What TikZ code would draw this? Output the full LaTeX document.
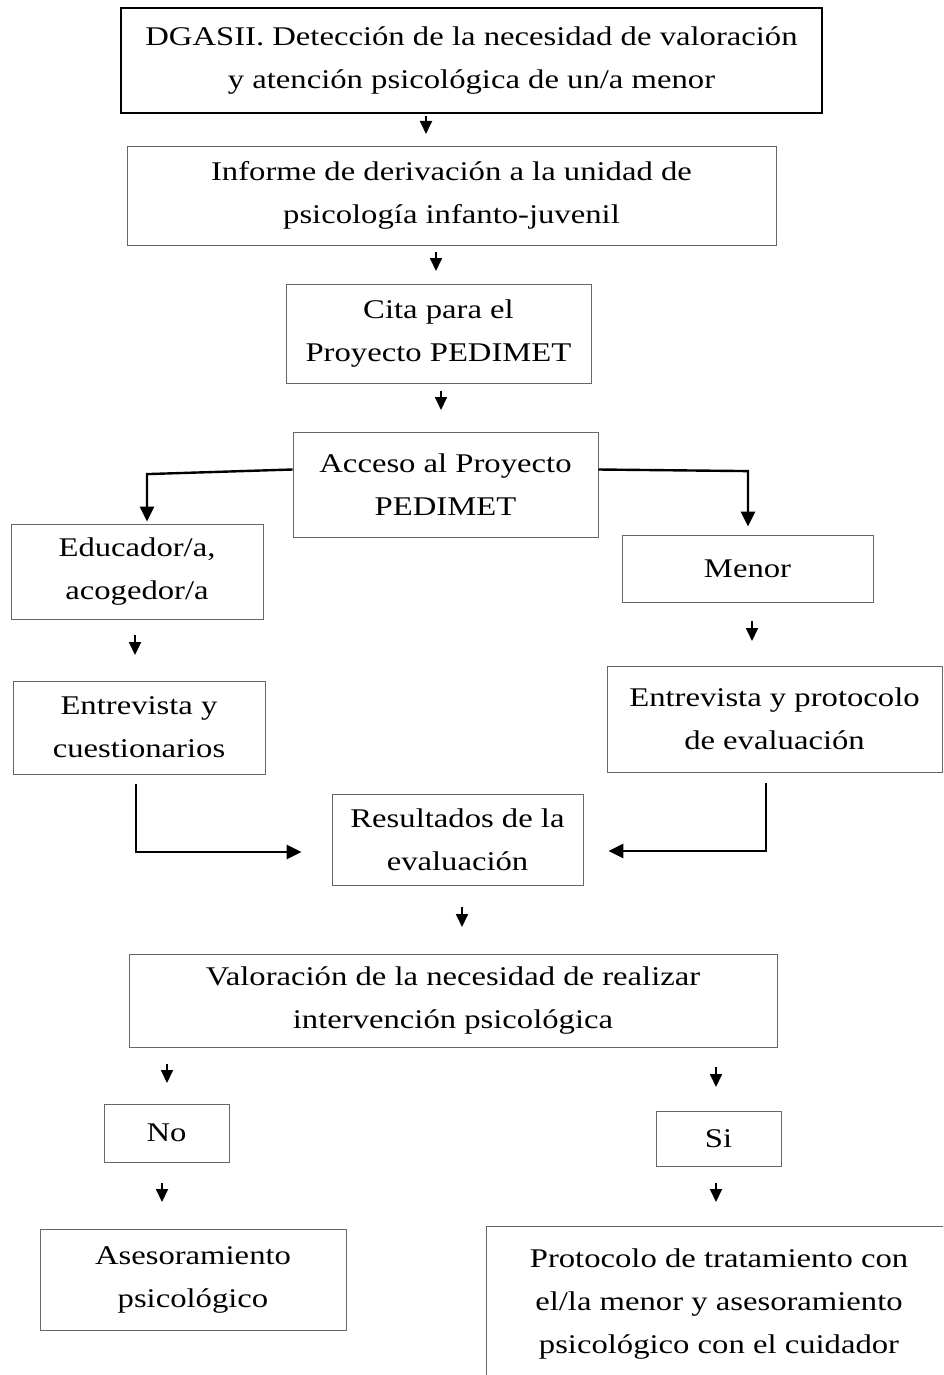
\documentclass[tikz,border=0pt]{standalone}
\usepackage{fontspec}
\setmainfont[FakeStretch=1.21]{Liberation Serif}
\usetikzlibrary{arrows.meta}
\tikzset{
  box/.style={draw=black!60, line width=0.8pt, align=center, inner sep=0pt,
    font=\fontsize{27}{43}\selectfont},
  topbox/.style={box, draw=black, line width=1.6pt},
  sarrow/.style={line width=1.8pt, -{Triangle[length=13pt,width=12pt]}},
  conn/.style={line width=2.4pt, -{Triangle[length=15pt,width=14pt]}}
}
\begin{document}
\begin{tikzpicture}[x=1pt,y=-1pt]
\useasboundingbox (0,0) rectangle (943,1375);
\clip (0,0) rectangle (943,1375);
\fill[white] (0,0) rectangle (943,1375);
\node[topbox, minimum width=701pt, minimum height=105pt] (n1) at (471.5,60.5)
  {DGASII. Detección de la necesidad de valoración\\y atención psicológica de un/a menor};
\node[box, minimum width=649pt, minimum height=99pt] (n2) at (451.5,195.5)
  {Informe de derivación a la unidad de\\psicología infanto-juvenil};
\node[box, minimum width=305pt, minimum height=99pt] (n3) at (438.5,333.5)
  {Cita para el\\Proyecto PEDIMET};
\node[box, minimum width=305pt, minimum height=105pt] (n4) at (445.5,484.5)
  {Acceso al Proyecto\\PEDIMET};
\node[box, minimum width=252pt, minimum height=95pt] (n5) at (137,571.5)
  {Educador/a,\\acogedor/a};
\node[box, minimum width=251pt, minimum height=67pt] (n6) at (747.5,568.5)
  {Menor};
\node[box, minimum width=252pt, minimum height=93pt] (n7) at (139,727.5)
  {Entrevista y\\cuestionarios};
\node[box, minimum width=335pt, minimum height=106pt] (n8) at (774.5,719)
  {Entrevista y protocolo\\de evaluación};
\node[box, minimum width=251pt, minimum height=91pt] (n9) at (457.5,839.5)
  {Resultados de la\\evaluación};
\node[box, minimum width=648pt, minimum height=93pt] (n10) at (453,1000.5)
  {Valoración de la necesidad de realizar\\intervención psicológica};
\node[box, minimum width=125pt, minimum height=58pt] (n11) at (166.5,1133)
  {No};
\node[box, minimum width=125pt, minimum height=55pt] (n12) at (718.5,1138.5)
  {Si};
\node[box, minimum width=306pt, minimum height=101pt] (n13) at (193,1279.5)
  {Asesoramiento\\psicológico};
\node[box, minimum width=466pt, minimum height=156pt] (n14) at (719,1304)
  {Protocolo de tratamiento con\\el/la menor y asesoramiento\\psicológico con el cuidador};
% short arrows
\coordinate (a1s) at (426,116); \coordinate (a1e) at (426,134);
\coordinate (a2s) at (436,252); \coordinate (a2e) at (436,271);
\coordinate (a3s) at (441,391); \coordinate (a3e) at (441,410);
\coordinate (a4s) at (135,635); \coordinate (a4e) at (135,655);
\coordinate (a5s) at (752,621); \coordinate (a5e) at (752,641);
\coordinate (a6s) at (462,907); \coordinate (a6e) at (462,927);
\coordinate (a7s) at (167,1064); \coordinate (a7e) at (167,1083);
\coordinate (a8s) at (716,1067); \coordinate (a8e) at (716,1087);
\coordinate (a9s) at (162,1183); \coordinate (a9e) at (162,1202);
\coordinate (a10s) at (716,1183); \coordinate (a10e) at (716,1202);
\foreach \i in {1,...,10} \draw[sarrow] (a\i s) -- (a\i e);
% branch connectors
\draw[conn] ([yshift=15pt]n4.west) -- ([xshift=10pt,yshift=49.5pt]n5.north) -- ([xshift=10pt,yshift=2pt]n5.north);
\draw[conn] ([yshift=15pt]n4.east) -- ([xshift=0.5pt,yshift=63.5pt]n6.north) -- ([xshift=0.5pt,yshift=8pt]n6.north);
\draw[conn] ([xshift=-3pt,yshift=-10pt]n7.south) |- ([xshift=-30pt,yshift=-12.5pt]n9.west);
\draw[conn] ([xshift=-8.5pt,yshift=-11pt]n8.south) |- ([xshift=25pt,yshift=-11.5pt]n9.east);
\end{tikzpicture}
\end{document}
